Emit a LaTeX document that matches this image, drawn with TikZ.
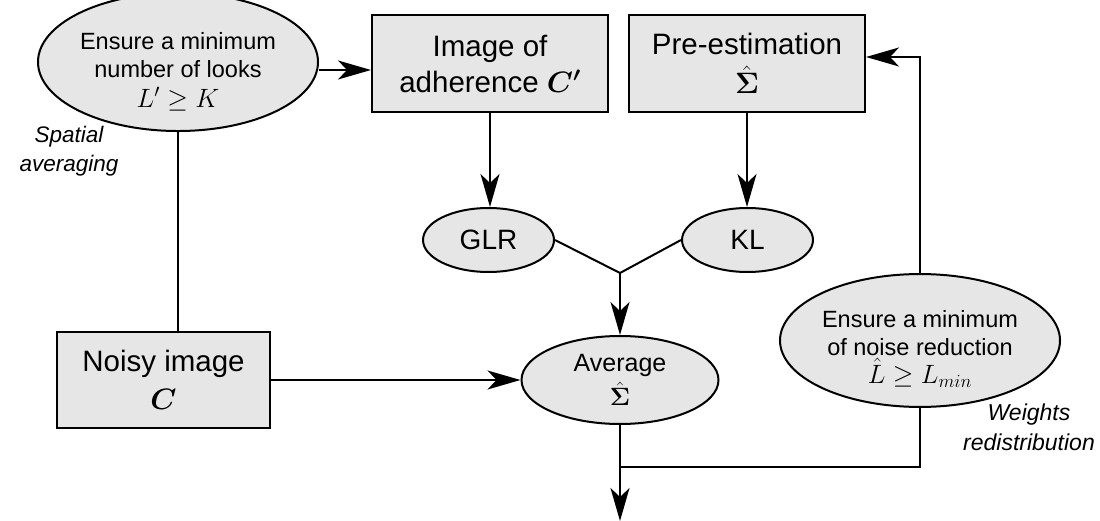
\RequirePackage{fix-cm}
\documentclass[tikz,border=0pt]{standalone}
\usepackage{amsmath,bm}
\usepackage{fontspec}
\setmainfont{Liberation Sans}
\usetikzlibrary{shapes.geometric,arrows.meta}
\definecolor{boxfill}{RGB}{230,230,230}
\newcommand{\mathline}[1]{{\fontsize{26.5}{28}\selectfont$#1$}}
\tikzset{
  conn/.style={line width=2pt},
  arr/.style={conn,-{Stealth[length=33pt,width=19pt,inset=9pt]}},
  rbox/.style={draw,fill=boxfill,line width=2pt,inner sep=0pt,align=center,font=\fontsize{29.5}{36}\selectfont},
  ell/.style={draw,fill=boxfill,ellipse,line width=2pt,inner sep=0pt,align=center},
  etext/.style={font=\fontsize{23.5}{28}\selectfont},
  note/.style={align=center,font=\fontsize{22.5}{29}\selectfont\itshape},
}
\begin{document}
\begin{tikzpicture}[x=1pt,y=-1pt]
\useasboundingbox (0,0) rectangle (1100,521);
% nodes
\node[ell,etext,minimum width=280pt,minimum height=117pt] (e1) at (178,62)
  {\rule{0pt}{36pt}Ensure a minimum\\number of looks\\[2pt]\mathline{L'\geq K}};
\node[rbox,minimum width=236pt,minimum height=97pt] (adh) at (490,63.5) {Image of\\adherence $\boldsymbol{C'}$};
\node[rbox,minimum width=236pt,minimum height=97pt] (pre) at (747,63.5) {Pre-estimation\\[3pt]$\hat{\boldsymbol{\Sigma}}$};
\node[ell,minimum width=131pt,minimum height=64pt,font=\fontsize{28}{30}\selectfont] (glr) at (488.5,240) {GLR};
\node[ell,minimum width=131pt,minimum height=64pt,font=\fontsize{28}{30}\selectfont] (kl) at (747.5,240) {KL};
\node[rbox,minimum width=213pt,minimum height=96pt] (noisy) at (163.5,380) {Noisy image\\[2pt]$\boldsymbol{C}$};
\node[ell,minimum width=197pt,minimum height=88pt,font=\fontsize{25}{32}\selectfont] (avg) at (620,380) {Average\\[2pt]$\hat{\boldsymbol{\Sigma}}$};
\node[ell,etext,minimum width=280pt,minimum height=115pt] (e2) at (920,340.5)
  {\rule{0pt}{34pt}Ensure a minimum\\of noise reduction\\[0pt]\mathline{\hat{L}\geq L_{min}}};
\node[note] (sp) at (69,151) {Spatial\\averaging};
\node[note,font=\fontsize{23}{30}\selectfont\itshape] (wr) at (1029,427) {Weights\\redistribution};
% coordinates
\coordinate (j) at (620,273);
\coordinate (b1) at (620,467);
\coordinate (out) at (620,521);
% connectors
\draw[arr] (e1.east |- 0,70) -- (adh.west |- 0,70);
\draw[conn] (e1.south) -- (e1.south |- noisy.north);
\draw[arr] (adh.south) -- (adh.south |- glr.north);
\draw[arr] (pre.south) -- (pre.south |- kl.north);
\draw[conn] (glr.east) -- (j) -- (kl.west);
\draw[arr] (j) -- (j |- avg.north);
\draw[arr] (noisy.east) -- (avg.west);
\draw[arr] (e2.north) |- (pre.east |- 0,57);
\draw[conn] (e2.south) |- (b1);
\draw[arr] (avg.south) -- (out);
\end{tikzpicture}
\end{document}
